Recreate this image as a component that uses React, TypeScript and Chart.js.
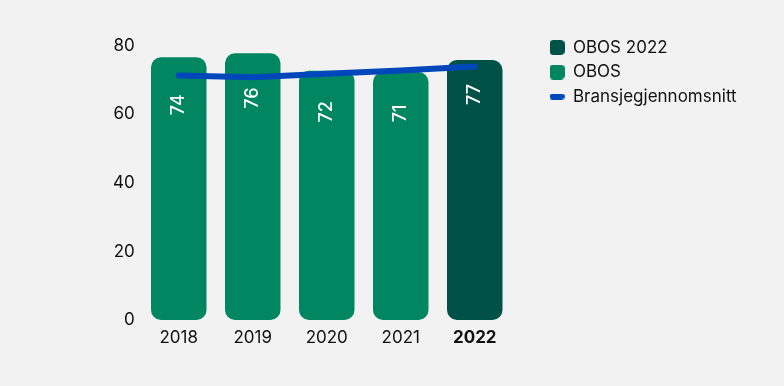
import React, { useEffect, useRef } from 'react';
import { Chart, registerables } from 'chart.js';

Chart.register(...registerables);

const categories = ['2018', '2019', '2020', '2021', '2022'];
const obosValues = [76.6, 77.8, 72.7, 72.3, null];
const obos2022Values = [null, null, null, null, 75.8];
const barLabels = [74, 76, 72, 71, 77];
const industryAverage = [71.3, 70.8, 71.8, 72.8, 73.9];
const yTicks = [0, 20, 40, 60, 80];
const seriesNames = ['OBOS 2022', 'OBOS', 'Bransjegjennomsnitt'];

const GREEN = '#008660';
const DARK = '#005248';
const BLUE = '#0047bb';
const TEXT = '#111111';
const BG = '#f2f2f2';
const FONT = 'Inter, "Noto Sans", sans-serif';

function makeSquare(color: string) {
  const c = document.createElement('canvas');
  c.width = 15;
  c.height = 15;
  const ctx = c.getContext('2d')!;
  ctx.fillStyle = color;
  ctx.beginPath();
  (ctx as any).roundRect(0, 0, 15, 15, 4);
  ctx.fill();
  return c;
}

function makePill(color: string) {
  const c = document.createElement('canvas');
  c.width = 15;
  c.height = 6;
  const ctx = c.getContext('2d')!;
  ctx.fillStyle = color;
  ctx.beginPath();
  (ctx as any).roundRect(0, 0, 15, 6, 3);
  ctx.fill();
  return c;
}

const barLabelPlugin = {
  id: 'barLabels',
  afterDatasetsDraw(chart: any) {
    const ctx = chart.ctx;
    const yScale = chart.scales.y;
    [0, 1].forEach((di) => {
      const meta = chart.getDatasetMeta(di);
      meta.data.forEach((el: any, i: number) => {
        const v = chart.data.datasets[di].data[i];
        if (v == null) return;
        const py = yScale.getPixelForValue(barLabels[i]) + 28;
        ctx.save();
        ctx.translate(el.x, py);
        ctx.rotate(-Math.PI / 2);
        ctx.font = `500 18px ${FONT}`;
        ctx.fillStyle = '#ffffff';
        ctx.textAlign = 'right';
        ctx.textBaseline = 'middle';
        ctx.fillText(String(barLabels[i]), 0, 0);
        ctx.restore();
      });
    });
  },
};

export default function App() {
  const ref = useRef<HTMLCanvasElement>(null);

  useEffect(() => {
    document.body.style.margin = '0';
    document.body.style.background = BG;
    const canvas = ref.current!;
    const mctx = canvas.getContext('2d')!;
    mctx.font = `17px ${FONT}`;
    const widest = Math.max(...seriesNames.map((s) => mctx.measureText(s).width));
    const legendWidth = 7.5 + 15 + 8.5 + widest + 7.5;
    const rightPad = Math.max(0, 784 - 544.5 - legendWidth);

    const markers = [makeSquare(DARK), makeSquare(GREEN), makePill(BLUE)];
    const colors = [DARK, GREEN, BLUE];
    const tickFont = { family: FONT, size: 17 };

    const chart = new Chart(canvas, {
      type: 'bar',
      data: {
        labels: categories,
        datasets: [
          {
            type: 'bar',
            label: seriesNames[0],
            data: obos2022Values,
            backgroundColor: DARK,
            borderRadius: 10,
            borderSkipped: false,
            barPercentage: 0.75,
            categoryPercentage: 1,
          },
          {
            type: 'bar',
            label: seriesNames[1],
            data: obosValues,
            backgroundColor: GREEN,
            borderRadius: 10,
            borderSkipped: false,
            barPercentage: 0.75,
            categoryPercentage: 1,
          },
          {
            type: 'line',
            label: seriesNames[2],
            data: industryAverage,
            borderColor: BLUE,
            backgroundColor: BLUE,
            borderWidth: 6,
            pointRadius: 0,
            pointHoverRadius: 0,
            borderCapStyle: 'round',
            borderJoinStyle: 'round',
            tension: 0,
            order: -1,
          } as any,
        ],
      },
      options: {
        animation: false,
        responsive: false,
        devicePixelRatio: 1,
        layout: { padding: { top: 31.5, right: rightPad, bottom: 0, left: 0 } },
        plugins: {
          tooltip: { enabled: false },
          legend: {
            position: 'right',
            align: 'start',
            maxWidth: 400,
            labels: {
              usePointStyle: true,
              boxWidth: 15,
              boxHeight: 15,
              padding: 7.5,
              color: TEXT,
              font: { family: FONT, size: 17 },
              generateLabels: () =>
                seriesNames.map((name, i) => ({
                  text: name,
                  pointStyle: markers[i] as any,
                  fillStyle: colors[i],
                  strokeStyle: 'transparent',
                  lineWidth: 0,
                  hidden: false,
                  datasetIndex: i,
                  fontColor: TEXT,
                })),
            },
          },
        },
        scales: {
          x: {
            stacked: true,
            grid: { display: false, drawTicks: false },
            border: { display: false },
            ticks: {
              color: TEXT,
              padding: 8,
              font: (c: any) => ({ ...tickFont, weight: c.index === 4 ? 'bold' : 'normal' }),
            },
            afterFit: (s: any) => {
              s.height = 66;
            },
          },
          y: {
            min: 0,
            max: 80,
            grid: { display: false, drawTicks: false },
            border: { display: false },
            ticks: { color: TEXT, padding: 7, font: tickFont },
            afterBuildTicks: (s: any) => {
              s.ticks = yTicks.map((v) => ({ value: v }));
            },
            afterFit: (s: any) => {
              s.width = 141.75;
            },
          },
          xTop: {
            type: 'category',
            position: 'top',
            grid: { display: false, drawTicks: false },
            border: { display: false },
            ticks: { display: false },
            afterFit: (s: any) => {
              s.height = 14.2;
            },
          },
          yRight: {
            type: 'linear',
            position: 'right',
            grid: { display: false, drawTicks: false },
            border: { display: false },
            ticks: { display: false },
            afterFit: (s: any) => {
              s.width = 30.25;
            },
          },
        } as any,
      },
      plugins: [barLabelPlugin],
    });
    return () => chart.destroy();
  }, []);

  return (
    <div style={{ width: 784, height: 386, background: BG }}>
      <canvas ref={ref} width={784} height={386} style={{ display: 'block' }} />
    </div>
  );
}
